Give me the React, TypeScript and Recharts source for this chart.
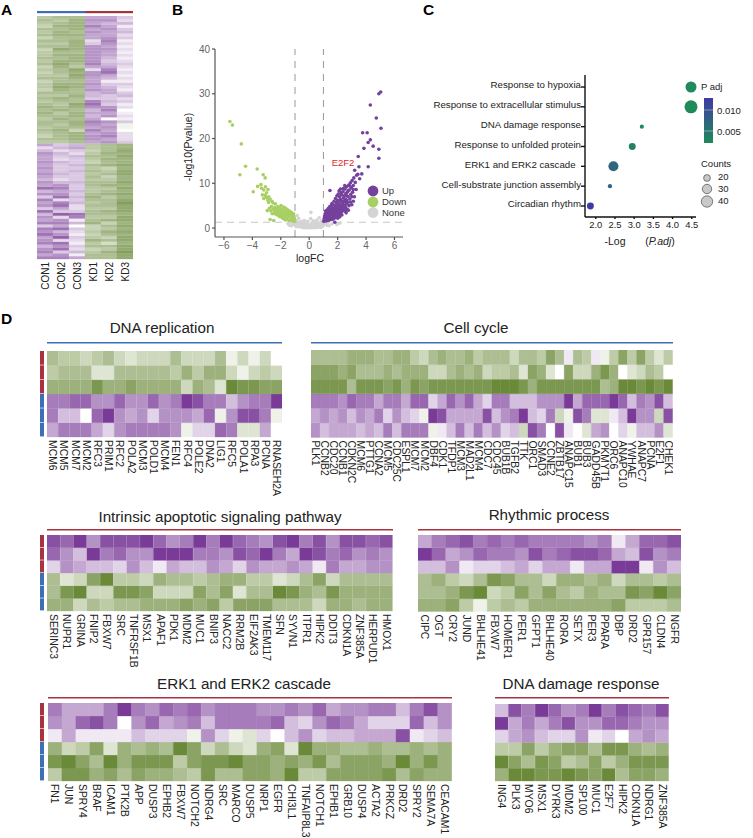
import {
  Bar,
  BarChart,
  Cell,
  ReferenceLine,
  Scatter,
  ScatterChart,
  XAxis,
  YAxis,
  ZAxis,
} from "recharts";

const FONT = "'Liberation Sans', Arial, sans-serif";

// heat values: purple is positive, green is negative, 0 is white
const PANEL_A_SAMPLES = ["CON1", "CON2", "CON3", "KD1", "KD2", "KD3"];
const PANEL_A_ROWS = [
  [-5, -6, -6, 5, 5, 3], [-6, -5, -7, 6, 6, 2], [-5, -6, -7, 5, 4, 4], [-4, -7, -7, 7, 5, 1],
  [-6, -6, -7, 5, 6, 3], [-5, -7, -6, 6, 5, 4], [-6, -7, -7, 5, 5, 2], [-4, -6, -6, 5, 6, 3],
  [-6, -6, -7, 2, 7, 1], [-5, -5, -7, 3, 6, 2], [-6, -6, -7, 6, 5, 1], [-4, -8, -7, 6, 6, 2],
  [-5, -6, -6, 6, 5, 1], [-5, -7, -7, 6, 5, 2], [-6, -6, -7, 6, 4, 1], [-5, -7, -7, 6, 3, 2],
  [-6, -8, -6, 7, 4, 3], [-4, -7, -5, 5, 5, 2], [-5, -6, -8, 2, 7, 1], [-4, -6, -7, 6, 8, 2],
  [-5, -5, -8, 6, 5, 1], [-6, -6, -7, 5, 4, 2], [-4, -6, -6, 5, 1, 1], [-5, -7, -7, 6, 3, 3],
  [-5, -8, -7, 5, 4, 2], [-4, -7, -6, 6, 5, 1], [-6, -6, -6, 4, 5, 3], [-5, -5, -7, 4, 3, 4],
  [-6, -7, -6, 3, 3, 2], [-5, -6, -6, 7, 4, 3], [-6, -5, -8, 8, 3, 1], [-7, -6, -7, 6, 6, 2],
  [-6, -7, -6, 4, 7, 0], [-7, -5, -7, 5, 5, 1], [-6, -6, -7, 4, 6, 2], [-5, -7, -6, 5, 0, 1],
  [-6, -6, -7, 7, 6, 3], [-6, -5, -7, 6, 5, -1], [-5, -6, -6, 5, 6, -1], [-6, -7, -4, 7, 5, 0],
  [-5, -6, -7, 5, 6, 2], [-4, -6, -7, 6, 7, 2], [-6, -6, -7, 6, 5, 2], [-5, -5, -6, 5, 6, 3],
  [5, 3, 4, -5, -6, -7], [2, 4, 5, -5, -6, -7], [4, 2, 3, -4, -6, -8], [6, 4, 2, -5, -7, -7],
  [5, 3, 4, -6, -6, -8], [5, 2, 3, -5, -7, -7], [6, 4, 3, -4, -6, -7], [5, 3, 4, -6, -7, -8],
  [6, 3, 3, -5, -4, -7], [5, 3, 4, -6, -5, -8], [6, 4, 3, -5, -6, -8], [5, 3, 3, -6, -4, -7],
  [4, 2, 3, -5, -5, -7], [6, 4, 4, -6, -6, -8], [5, 6, 3, -6, -7, -7], [8, 7, 3, -5, -5, -8],
  [4, 5, 4, -5, -6, -7], [6, 6, 3, -6, -7, -8], [3, 8, 4, -7, -5, -7], [7, 2, 3, -6, -6, -8],
  [5, 7, 4, -5, -6, -9], [6, 8, 2, -6, -6, -8], [3, 5, 2, -5, -5, -8], [8, 3, 3, -6, -7, -8],
  [4, 9, 8, -6, -6, -7], [6, 2, 7, -5, -5, -8], [5, 6, 1, -6, -7, -8], [7, 7, 4, -7, -4, -7],
  [3, 5, 0, -4, -6, -8], [7, 8, 3, -4, -5, -7], [6, 4, 2, -5, -7, -8], [8, 6, 1, -4, -6, -7],
  [5, 9, 3, -5, -4, -8], [6, 2, 2, -7, -6, -8], [7, 8, 1, -5, -3, -7], [4, 6, 3, -6, -6, -8],
  [6, 8, 2, -4, -5, -8], [7, 3, 4, -5, -7, -9], [5, 6, 1, -6, -6, -8], [7, 7, 5, -6, -6, -8],
];

const VOLCANO_UP = [
  [1.02, 1.5], [1.05, 2.1], [1.08, 2.7], [1.1, 1.7], [1.12, 3.2], [1.15, 2.2], [1.18, 1.6], [1.2, 2.8],
  [1.22, 3.5], [1.25, 1.9], [1.28, 2.4], [1.3, 3.1], [1.32, 1.7], [1.36, 2.1], [1.38, 3.7], [1.4, 2.7],
  [1.42, 1.8], [1.45, 3.3], [1.48, 2.2], [1.5, 4.1], [1.52, 1.9], [1.54, 2.9], [1.56, 3.6], [1.58, 2.3],
  [1.6, 4.6], [1.62, 1.9], [1.64, 3.1], [1.66, 2.5], [1.68, 4.0], [1.7, 5.2], [1.72, 2.1], [1.74, 3.4],
  [1.76, 2.8], [1.78, 4.5], [1.8, 3.8], [1.82, 2.3], [1.84, 5.1], [1.86, 3.1], [1.88, 4.2], [1.9, 2.6],
  [1.92, 5.7], [1.94, 3.5], [1.96, 4.8], [1.98, 2.9], [2.0, 6.2], [2.02, 3.3], [2.04, 4.3], [2.06, 5.3],
  [2.08, 2.8], [2.1, 3.8], [2.12, 7.0], [2.14, 4.6], [2.16, 5.8], [2.18, 3.2], [2.2, 6.4], [2.22, 4.1],
  [2.24, 5.1], [2.26, 3.5], [2.28, 7.4], [2.3, 4.6], [2.32, 6.0], [2.34, 3.9], [2.36, 5.4], [2.38, 8.1],
  [2.4, 6.7], [2.42, 4.3], [2.44, 5.0], [2.46, 7.2], [2.48, 3.8], [2.5, 5.9], [2.52, 8.7], [2.54, 6.5],
  [2.56, 4.6], [2.58, 7.7], [2.6, 5.3], [2.62, 9.2], [2.64, 6.2], [2.66, 4.2], [2.68, 8.0], [2.7, 5.7],
  [2.74, 7.0], [2.78, 9.6], [2.8, 5.0], [2.82, 8.5], [2.86, 6.5], [2.9, 10.1], [2.92, 7.5], [2.96, 9.0],
  [3.0, 5.2], [3.02, 10.6], [3.05, 8.0], [3.1, 9.5], [3.14, 11.2], [3.18, 7.0], [3.2, 12.9], [3.24, 10.2],
  [3.3, 8.6], [3.34, 11.8], [3.42, 12.0], [3.5, 13.7], [3.55, 11.0], [3.7, 12.1], [1.46, 8.4], [2.2, 8.7],
  [2.1, 8.3], [1.8, 1.3], [2.0, 2.2], [2.15, 2.5], [2.3, 2.9], [2.6, 3.4], [2.75, 4.0], [1.55, 5.0],
  [1.25, 4.0], [1.35, 4.4], [1.45, 4.8], [1.6, 5.5], [1.75, 6.0], [1.85, 6.6], [1.95, 7.2], [2.05, 7.6],
  [2.25, 7.9], [2.4, 8.8], [2.5, 9.5], [1.15, 3.8], [1.42, 4.2], [1.7, 3.0], [1.95, 4.0], [2.2, 5.0],
  [2.45, 6.0], [2.65, 7.2], [2.75, 8.4], [2.85, 9.4], [3.0, 7.0], [3.1, 8.6], [2.9, 5.8], [2.55, 3.8],
  [3.45, 16.0], [3.85, 17.8], [4.15, 13.7], [3.76, 21.3], [4.08, 21.3], [4.3, 19.7], [4.15, 19.1], [4.5, 18.3],
  [4.9, 17.6], [4.9, 15.6], [5.05, 22.3], [4.72, 24.6], [4.3, 27.5], [4.9, 30.0], [5.03, 30.4], [3.1, 6.0],
];

const VOLCANO_DOWN = [
  [-1.02, 1.5], [-1.05, 2.0], [-1.08, 2.6], [-1.1, 3.2], [-1.14, 1.6], [-1.18, 2.2], [-1.22, 2.9], [-1.25, 3.5],
  [-1.28, 1.8], [-1.32, 2.4], [-1.36, 3.1], [-1.4, 3.8], [-1.42, 1.7], [-1.46, 2.6], [-1.5, 3.3], [-1.52, 4.1],
  [-1.55, 2.0], [-1.58, 2.9], [-1.62, 3.6], [-1.65, 4.4], [-1.68, 1.8], [-1.7, 2.4], [-1.74, 3.1], [-1.78, 3.9],
  [-1.8, 4.7], [-1.82, 2.1], [-1.86, 2.8], [-1.9, 3.4], [-1.92, 4.2], [-1.95, 2.4], [-1.98, 5.0], [-2.02, 3.0],
  [-2.05, 3.7], [-2.08, 4.5], [-2.1, 2.6], [-2.14, 3.3], [-2.18, 4.0], [-2.2, 4.8], [-2.24, 2.9], [-2.28, 3.6],
  [-2.3, 4.3], [-2.35, 3.1], [-2.4, 3.9], [-2.44, 4.6], [-2.48, 3.4], [-2.55, 4.2], [-2.6, 3.2], [-2.66, 4.8],
  [-2.7, 3.8], [-2.75, 1.9], [-2.8, 4.4], [-2.86, 5.7], [-2.62, 6.0], [-2.55, 5.6], [-2.38, 5.4], [-2.5, 1.7],
  [-2.95, 3.9], [-2.75, 6.5], [-2.9, 6.2], [-3.0, 6.8], [-3.1, 7.3], [-2.85, 7.0], [-3.2, 6.6], [-3.3, 7.4],
  [-3.0, 7.9], [-2.9, 8.6], [-3.2, 8.5], [-3.35, 8.9], [-3.08, 9.2], [-3.4, 9.7], [-3.63, 9.3], [-3.94, 8.1],
  [-3.24, 11.9], [-3.1, 11.2], [-3.66, 13.2], [-4.88, 11.9], [-4.48, 13.8], [-4.78, 18.8], [-5.4, 23.0], [-5.58, 23.8],
];

const VOLCANO_NONE = [
  [-1.5, 1.0], [-1.35, 0.9], [-1.2, 1.1], [-1.1, 0.8], [-1.0, 1.2], [-0.95, 0.5], [-0.9, 0.9], [-0.85, 1.3],
  [-0.8, 0.4], [-0.78, 0.8], [-0.72, 1.2], [-0.7, 0.3], [-0.66, 0.7], [-0.6, 1.1], [-0.58, 0.25], [-0.54, 0.6],
  [-0.5, 1.0], [-0.46, 0.2], [-0.42, 0.5], [-0.38, 0.9], [-0.34, 0.15], [-0.3, 0.45], [-0.26, 0.8], [-0.22, 0.1],
  [-0.18, 0.4], [-0.14, 0.75], [-0.1, 0.1], [-0.06, 0.35], [-0.02, 0.7], [0.02, 0.05], [0.06, 0.35], [0.1, 0.7],
  [0.14, 0.1], [0.18, 0.4], [0.22, 0.8], [0.26, 0.15], [0.3, 0.45], [0.34, 0.85], [0.38, 0.2], [0.42, 0.5],
  [0.46, 0.9], [0.5, 0.25], [0.54, 0.6], [0.58, 1.0], [0.62, 0.3], [0.66, 0.7], [0.7, 1.1], [0.74, 0.4],
  [0.78, 0.8], [0.82, 1.2], [0.86, 0.5], [0.9, 0.9], [0.95, 1.2], [1.0, 0.7], [1.05, 1.1], [1.15, 0.9],
  [1.3, 1.1], [1.6, 0.9], [1.95, 0.8], [2.15, 1.1], [-0.6, 1.5], [-0.35, 1.7], [-0.1, 1.5], [0.1, 2.1],
  [0.12, 3.5], [0.3, 1.6], [0.55, 1.8], [0.7, 2.3], [-0.75, 2.2], [-0.85, 2.8], [-0.9, 1.7], [0.85, 1.6],
  [-0.25, 1.3], [0.2, 1.25], [0.45, 1.3], [-0.45, 1.3], [-1.4, 0.6], [-1.25, 0.5], [1.25, 0.6], [1.4, 0.5],
  [-0.92, 0.3], [-0.75, 0.55], [-0.62, 0.5], [-0.4, 0.05], [-0.3, 0.1], [-0.2, 0.55], [0.0, 0.2], [0.0, 0.5],
  [0.2, 0.2], [0.3, 0.1], [0.4, 0.7], [0.5, 0.05], [0.6, 0.5], [0.72, 0.2], [0.85, 0.2], [0.95, 0.45],
];

const VOLCANO_X_TICKS = [-6, -4, -2, 0, 2, 4, 6];
const VOLCANO_Y_TICKS = [0, 10, 20, 30, 40];

const GO_TERMS = [
  "Response to hypoxia",
  "Response to extracellular stimulus",
  "DNA damage response",
  "Response to unfolded protein",
  "ERK1 and ERK2 cascade  ",
  "Cell-substrate junction assembly",
  "Circadian rhythm",
];
const GO_LOGP = [4.48, 4.48, 3.2, 2.95, 2.46, 2.37, 1.86];
const GO_COUNTS = [28, 39, 4, 11, 23, 4, 11];
const GO_PADJ = [0.00003, 0.00003, 0.0006, 0.0011, 0.0035, 0.0043, 0.0138];
const GO_X_TICKS = [2, 2.5, 3, 3.5, 4, 4.5];
const COUNT_LEVELS = [20, 30, 40];

const REPLICATION_GENES = ["MCM6", "MCM5", "MCM7", "MCM2", "RFC3", "PRIM1", "RFC2", "POLA2", "MCM3", "POLD1", "MCM4", "FEN1", "RFC4", "POLE2", "DNA2", "LIG1", "RFC5", "POLA1", "RPA3", "PCNA", "RNASEH2A"];
const REPLICATION_ROWS = [
  [-5, -4, -4, -3, -4, -5, -3, -2, -3, -3, -3, -5, -3, -3, -3, -5, -1, -3, -1, -3, 0],
  [-4, -5, -5, -5, -2, -2, -5, -5, -5, -5, -5, -4, -6, -4, -6, -6, -3, -1, -3, -4, -3],
  [-6, -6, -6, -6, -8, -6, -6, -7, -6, -6, -6, -6, -3, -6, -5, -2, -9, -8, -8, -7, -7],
  [6, 6, 7, 7, 5, 5, 7, 5, 5, 7, 5, 6, 9, 8, 6, 6, 3, 5, 6, 6, 9],
  [6, 3, 3, 0, 7, 9, 5, 4, 5, 2, 5, 5, 5, 4, 7, -1, 5, 8, 8, 6, -1],
  [4, 6, 6, 6, 4, 2, 5, 6, 6, 6, 6, 5, -1, 2, 2, 7, 6, -2, -2, 4, 0],
];

const CYCLE_GENES = ["PLK1", "CCNB2", "CDC20", "CCNB1", "CDKN2C", "MCM6", "PTTG1", "CCNA2", "MCM5", "CDC25C", "ESPL1", "MCM7", "MCM2", "DBF4", "CDK1", "TFDP1", "MCM3", "MAD2L1", "MCM4", "CDC7", "CDC45", "BUB1B", "TGFB2", "TTK", "ORC1", "SMAD3", "CCNE2", "ZBTB17", "ANAPC15", "BUB1", "BUB3", "GADD45B", "PKMYT1", "ORC6", "ANAPC10", "YWHAE", "ANAPC7", "PCNA", "E2F1", "CHEK1"];
const CYCLE_ROWS = [
  [-5, -5, -5, -5, -6, -6, -6, -5, -5, -6, -6, -4, -3, -5, -6, -5, -5, -6, -4, -5, -5, -5, -3, -5, -5, -4, -7, -5, 1, -5, -4, 1, -1, -4, -7, -4, -7, -4, -2, -4],
  [-7, -7, -7, -6, -7, -5, -5, -5, -6, -5, -6, -6, -6, -3, -3, -5, -6, -5, -6, -3, -4, -4, -5, -2, -7, -6, -2, 0, -7, -3, -3, -6, -8, -6, 0, -2, -3, -5, -4, 0],
  [-8, -8, -8, -8, -5, -8, -8, -8, -7, -8, -6, -8, -7, -8, -8, -8, -8, -8, -8, -8, -9, -9, -9, -8, -6, -8, -8, -8, -8, -8, -8, -8, -5, -6, -9, -9, -8, -9, -8, -9],
  [6, 6, 6, 5, 7, 6, 6, 4, 6, 6, 4, 7, 7, 2, 4, 7, 5, 7, 4, 2, 6, 6, 3, 3, 3, 5, 5, 5, 9, 4, 7, 7, 7, 9, 7, 3, 6, 5, 8, 3],
  [4, 5, 4, 5, 3, 5, 4, 6, 2, 5, 3, 2, -1, 9, 8, 4, 4, 4, 4, 8, 3, 5, 6, 9, 3, 2, 6, -3, -1, 8, 6, -2, -2, 1, 3, 9, 5, 5, -3, 8],
  [5, 3, 4, 4, 4, 3, 4, 3, 6, 3, 6, 6, 6, -1, 1, 3, 6, 3, 6, 3, 5, 2, 3, -3, 8, 6, 0, 8, 1, 0, -2, 4, 5, 0, 2, -1, 3, 3, 5, -2],
];

const APOPTOTIC_GENES = ["SERINC3", "NUPR1", "GRINA", "FNIP2", "FBXW7", "SRC", "TNFRSF1B", "MSX1", "APAF1", "PDK1", "MDM2", "MUC1", "BNIP3", "NACC2", "RRM2B", "EIF2AK3", "TMEM117", "SFN", "SYVN1", "ITPR1", "HIPK2", "DDIT3", "CDKN1A", "ZNF385A", "HERPUD1", "HMOX1"];
const APOPTOTIC_ROWS = [
  [8, 7, 9, 5, 8, 8, 8, 9, 7, 5, 6, 9, 6, 9, 7, 6, 5, 8, 9, 6, 8, 5, 8, 8, 7, 8],
  [7, 5, 3, 9, 6, 7, 5, 5, 9, 9, 9, 6, 6, 5, 8, 7, 9, 6, 4, 9, 8, 6, 7, 5, 6, 5],
  [2, 5, 4, 3, 3, 2, 5, 3, 1, 4, 3, 3, 5, 4, 2, 5, 4, 4, 5, 4, 1, 6, 4, 4, 5, 5],
  [-5, -2, -3, -7, -9, -4, -4, -3, -6, -5, -5, -4, -5, -6, -6, -4, -4, -2, -3, -5, -7, -3, -5, -5, -5, -5],
  [-5, -8, -9, -3, -3, -8, -8, -7, -3, -3, -3, -7, -5, -7, -2, -5, -5, -9, -8, -6, -5, -8, -6, -6, -6, -6],
  [-6, -6, -3, -5, -4, -5, -5, -6, -6, -6, -7, -6, -7, -4, -7, -7, -7, -5, -5, -5, -3, -6, -6, -5, -6, -6],
];

const RHYTHMIC_GENES = ["CIPC", "OGT", "CRY2", "JUND", "BHLHE41", "FBXW7", "HOMER1", "PER1", "GFPT1", "BHLHE40", "RORA", "SETX", "PER3", "PPARA", "DBP", "DRD2", "GPR157", "CLDN4", "NGFR"];
const RHYTHMIC_ROWS = [
  [4, 6, 7, 8, 6, 7, 6, 7, 6, 6, 6, 6, 5, 6, 1, 4, 7, 7, 8],
  [9, 7, 4, 5, 7, 6, 6, 5, 8, 6, 7, 8, 8, 7, 4, 3, 8, 5, 6],
  [3, 3, 5, 1, 2, 2, 3, 4, 2, 4, 4, 1, 4, 4, 9, 9, 1, 5, 3],
  [-5, -6, -4, -3, -5, -8, -7, -5, -5, -3, -6, -6, -5, -6, -3, -5, -5, -4, -5],
  [-5, -5, -6, -8, -9, -3, -4, -7, -5, -7, -5, -4, -6, -5, -5, -8, -7, -9, -7],
  [-6, -6, -7, -4, -1, -4, -5, -4, -6, -6, -6, -6, -6, -6, -7, -4, -4, -4, -5],
];

const ERK_GENES = ["FN1", "JUN", "SPRY4", "BRAF", "ICAM1", "PTK2B", "APP", "DUSP3", "EPHB2", "FBXW7", "NOTCH2", "NDRG4", "SRC", "MARCO", "DUSP5", "NRP1", "EGFR", "CHI3L1", "TNFAIP8L3", "NOTCH1", "EPHB1", "GRB10", "DUSP4", "ACTA2", "PRKCZ", "DRD2", "SPRY2", "SEMA7A", "CEACAM1"];
const ERK_ROWS = [
  [6, 4, 4, 4, 6, 9, 6, 5, 7, 6, 7, 5, 6, 6, 6, 5, 5, 6, 5, 7, 4, 5, 5, 6, 6, 3, 6, 8, 5],
  [5, 4, 7, 8, 6, 0, 5, 7, 4, 5, 6, 3, 6, 6, 6, 6, 7, 3, 2, 5, 7, 6, 4, 2, 2, 2, 7, 3, 5],
  [1, 4, 1, 1, 1, 1, 3, 2, 2, 2, -1, 5, 2, -1, -2, 2, 0, 3, 5, 2, 3, 3, 4, 4, 4, 8, 1, 2, 3],
  [-6, -3, -4, -7, -2, -6, -5, -6, -5, -9, -7, -3, -5, -3, -2, -6, -7, -2, -9, -6, -6, -5, -5, -6, -5, -5, -6, -5, -6],
  [-8, -9, -7, -5, -9, -6, -8, -8, -8, -4, -7, -8, -8, -9, -7, -7, -6, -7, -6, -8, -5, -7, -7, -7, -6, -9, -6, -8, -6],
  [-4, -8, -8, -6, -7, -5, -7, -6, -6, -5, -4, -8, -5, -5, -7, -7, -6, -9, -4, -4, -7, -7, -7, -7, -8, -5, -7, -6, -6],
];

const DAMAGE_GENES = ["ING4", "PLK3", "MYO6", "MSX1", "DYRK3", "MDM2", "SP100", "MUC1", "E2F7", "HIPK2", "CDKN1A", "NDRG1", "ZNF385A"];
const DAMAGE_ROWS = [
  [3, 8, 6, 9, 7, 5, 6, 9, 6, 8, 7, 6, 8],
  [9, 4, 6, 4, 6, 8, 5, 5, 7, 7, 6, 5, 5],
  [2, 4, 5, 3, 2, 2, 5, 1, 2, 0, 4, 5, 4],
  [-4, -4, -7, -4, -6, -7, -7, -5, -8, -8, -6, -5, -6],
  [-9, -7, -5, -8, -7, -4, -5, -7, -4, -6, -8, -8, -8],
  [-6, -9, -9, -8, -8, -9, -8, -7, -9, -5, -7, -7, -6],
];

const BLUE = "#3c6fb4";
const RED = "#a83240";

function mix(from: number[], to: number[], t: number) {
  const c = from.map((f, i) => Math.round(f + (to[i] - f) * t));
  return `rgb(${c[0]},${c[1]},${c[2]})`;
}

function heatColor(v: number, span: number) {
  return v >= 0
    ? mix([255, 255, 255], [122, 59, 152], Math.min(1, v / span))
    : mix([255, 255, 255], [106, 138, 58], Math.min(1, -v / span));
}

function padjColor(p: number) {
  const t = Math.min(1, Math.max(0, (p - 0.001) / 0.0128));
  return mix([31, 138, 90], [64, 57, 165], Math.sqrt(t));
}

function GeneTick({ x, y, payload, up }: any) {
  return (
    <text
      transform={`translate(${x},${y}) rotate(${up ? -90 : 90})`}
      textAnchor={up ? "end" : "start"}
      dominantBaseline="central"
      fontSize={up ? 10 : 10.4}
      fill="#222"
      fontFamily={FONT}
    >
      {payload.value}
    </text>
  );
}

function Heatmap({ left, top, width, height, labels, rows, labelHeight = 62, up = false, span = 9 }: any) {
  const table = labels.map((label: string) => {
    const row: Record<string, any> = { label };
    rows.forEach((_: number[], i: number) => {
      row[`r${i}`] = 1;
    });
    return row;
  });
  // stack runs bottom to top, so the last row goes first
  const order = rows.map((_: number[], i: number) => rows.length - 1 - i);
  return (
    <div style={{ position: "absolute", left, top }}>
      <BarChart
        width={width}
        height={height + labelHeight}
        data={table}
        barCategoryGap={0}
        barGap={0}
        margin={{ top: 0, right: 0, bottom: 0, left: 0 }}
      >
        <XAxis
          dataKey="label"
          interval={0}
          height={labelHeight}
          axisLine={false}
          tickLine={false}
          tickSize={0}
          tickMargin={3}
          tick={<GeneTick up={up} />}
        />
        <YAxis hide domain={[0, rows.length]} />
        {order.map((ri: number) => (
          <Bar key={ri} dataKey={`r${ri}`} stackId="h" isAnimationActive={false}>
            {rows[ri].map((v: number, i: number) => (
              <Cell key={i} fill={heatColor(v, span)} stroke={heatColor(v, span)} strokeWidth={0.3} />
            ))}
          </Bar>
        ))}
      </BarChart>
    </div>
  );
}

const toPoints = (list: number[][]) => list.map(([x, y]) => ({ x, y }));

function Dot({ cx, cy, fill }: any) {
  return <circle cx={cx} cy={cy} r={1.8} fill={fill} />;
}

function Volcano() {
  return (
    <div style={{ position: "absolute", left: 170, top: 40 }}>
      <ScatterChart width={240} height={230} margin={{ top: 9, right: 7, bottom: 0, left: 0 }}>
        <XAxis
          type="number"
          dataKey="x"
          domain={[-6.63, 6.6]}
          ticks={VOLCANO_X_TICKS}
          height={33}
          stroke="#555"
          strokeWidth={1.2}
          tickSize={3}
          tick={{ fill: "#666", fontSize: 10, fontFamily: FONT }}
          tickFormatter={(v: number) => (v < 0 ? `−${-v}` : String(v))}
        />
        <YAxis
          type="number"
          dataKey="y"
          domain={[-2, 40]}
          ticks={VOLCANO_Y_TICKS}
          width={45}
          stroke="#555"
          strokeWidth={1.2}
          tickSize={3}
          tick={{ fill: "#666", fontSize: 10, fontFamily: FONT }}
        />
        <Scatter data={toPoints(VOLCANO_NONE)} fill="#d4d4d4" shape={<Dot />} isAnimationActive={false} />
        <Scatter data={toPoints(VOLCANO_DOWN)} fill="#a8cf62" shape={<Dot />} isAnimationActive={false} />
        <Scatter data={toPoints(VOLCANO_UP)} fill="#74429c" shape={<Dot />} isAnimationActive={false} />
        <ReferenceLine x={-1} stroke="#999" strokeWidth={1} strokeDasharray="7 6" />
        <ReferenceLine x={1} stroke="#999" strokeWidth={1} strokeDasharray="7 6" />
        <ReferenceLine y={1.3} stroke="#c8c8c8" strokeWidth={1.2} strokeDasharray="7 5" />
      </ScatterChart>
    </div>
  );
}

function TermTick({ x, y, payload }: any) {
  return (
    <text
      x={x}
      y={y - 2}
      textAnchor="end"
      dominantBaseline="central"
      fontSize={9.7}
      fill="#222"
      fontFamily={FONT}
      style={{ whiteSpace: "pre" }}
    >
      {GO_TERMS[payload.value]}
    </text>
  );
}

function Enrichment() {
  const points = GO_TERMS.map((term, i) => ({
    term,
    x: GO_LOGP[i],
    y: i,
    counts: GO_COUNTS[i],
  }));
  return (
    <div style={{ position: "absolute", left: 410, top: 70 }}>
      <ScatterChart width={300} height={180} margin={{ top: 5, right: 14, bottom: 0, left: 0 }}>
        <XAxis
          type="number"
          dataKey="x"
          domain={[1.72, 4.61]}
          ticks={GO_X_TICKS}
          height={33}
          stroke="#111"
          strokeWidth={1.4}
          tickSize={2}
          tickFormatter={(v: number) => v.toFixed(1)}
          tick={{ fill: "#222", fontSize: 9.4, fontFamily: FONT }}
        />
        <YAxis
          type="number"
          dataKey="y"
          reversed
          domain={[-0.605, 6.555]}
          ticks={GO_TERMS.map((_, i) => i)}
          interval={0}
          width={175}
          stroke="#111"
          strokeWidth={1.4}
          tickSize={4}
          tickMargin={0}
          tick={<TermTick />}
        />
        <ZAxis type="number" dataKey="counts" domain={[0, 50]} range={[0, 170]} />
        <Scatter data={points} isAnimationActive={false}>
          {GO_PADJ.map((p, i) => (
            <Cell key={i} fill={padjColor(p)} />
          ))}
        </Scatter>
      </ScatterChart>
    </div>
  );
}

const label = { fontFamily: FONT, fill: "#222" };

function Annotations() {
  const letters = [
    ["A", 1, 15],
    ["B", 172, 15],
    ["C", 423, 15],
    ["D", 1, 324],
  ];
  const titles = [
    ["DNA replication", 162, 333],
    ["Cell cycle", 476, 333],
    ["Intrinsic apoptotic signaling pathway", 220, 522],
    ["Rhythmic process", 549, 520],
    ["ERK1 and ERK2 cascade", 244, 689],
    ["DNA damage response", 581, 689],
  ];
  const rules = [
    [47, 282, 342.7, BLUE],
    [311, 673, 342.7, BLUE],
    [47, 393, 529.7, RED],
    [418, 681, 529.7, RED],
    [48, 452, 697.7, RED],
    [495, 669, 697.7, RED],
  ];
  const sides = [
    [351, 437],
    [535, 611],
    [703, 781],
  ];
  const volcanoKey = [
    ["Up", "#74429c", 191],
    ["Down", "#a8cf62", 202],
    ["None", "#d4d4d4", 212.5],
  ];
  return (
    <svg
      width={753}
      height={838}
      style={{ position: "absolute", left: 0, top: 0, pointerEvents: "none" }}
    >
      <defs>
        <linearGradient id="padj" x1="0" y1="0" x2="0" y2="1">
          <stop offset="0%" stopColor="#4039a5" />
          <stop offset="100%" stopColor="#1f8a5a" />
        </linearGradient>
      </defs>
      {letters.map(([t, x, y]) => (
        <text key={t as string} x={x as number} y={y as number} fontSize={15.5} fontWeight="bold" fontFamily={FONT} fill="#000">
          {t}
        </text>
      ))}
      {titles.map(([t, x, y]) => (
        <text key={t as string} x={x as number} y={y as number} fontSize={15.2} textAnchor="middle" {...label}>
          {t}
        </text>
      ))}
      {rules.map(([x1, x2, y, c], i) => (
        <line key={i} x1={x1 as number} x2={x2 as number} y1={y as number} y2={y as number} stroke={c as string} strokeWidth={1.6} />
      ))}
      {sides.map(([a, b], i) => {
        const h = (b - a) / 6;
        return [0, 1, 2, 3, 4, 5].map((k) => (
          <rect key={`${i}-${k}`} x={40} y={a + k * h} width={4} height={h - 0.6} fill={k < 3 ? RED : BLUE} />
        ));
      })}

      <rect x={37} y={11} width={48} height={2.2} fill={BLUE} />
      <rect x={85} y={11} width={48} height={2.2} fill={RED} />

      <text x={310} y={262} fontSize={10.5} textAnchor="middle" {...label}>logFC</text>
      <text transform="translate(192,147) rotate(-90)" fontSize={10.5} textAnchor="middle" {...label}>-log10(Pvalue)</text>
      <text x={343} y={166} fontSize={9.5} textAnchor="middle" fontFamily={FONT} fill="#e0262a">E2F2</text>
      {volcanoKey.map(([t, c, y]) => (
        <g key={t as string}>
          <circle cx={373} cy={y as number} r={5.4} fill={c as string} />
          <text x={382} y={(y as number) + 3} fontSize={9.5} fontFamily={FONT} fill="#333">{t}</text>
        </g>
      ))}

      <text x={615} y={245} fontSize={10.5} textAnchor="middle" {...label}>-Log</text>
      <text x={660} y={245} fontSize={10.5} textAnchor="middle" {...label}>
        (<tspan fontStyle="italic">P.adj</tspan>)
      </text>
      <text x={701} y={90} fontSize={9.5} {...label}>P adj</text>
      <rect x={704} y={98} width={9} height={45} fill="url(#padj)" />
      <line x1={704} x2={713} y1={110} y2={110} stroke="#fff" strokeWidth={0.4} />
      <line x1={704} x2={713} y1={131} y2={131} stroke="#fff" strokeWidth={0.4} />
      <text x={717} y={114} fontSize={9.5} {...label}>0.010</text>
      <text x={717} y={135} fontSize={9.5} {...label}>0.005</text>
      <text x={701} y={167} fontSize={9.5} {...label}>Counts</text>
      {COUNT_LEVELS.map((c, i) => (
        <g key={c}>
          <circle cx={707} cy={[178, 189, 201.5][i]} r={[3.4, 4.7, 5.7][i]} fill="#c8c8c8" stroke="#333" strokeWidth={0.6} />
          <text x={718} y={[180, 192, 204][i]} fontSize={9.5} {...label}>{c}</text>
        </g>
      ))}
    </svg>
  );
}

export default function App() {
  return (
    <div style={{ position: "absolute", left: 0, top: 0, width: 753, height: 838, background: "#fff", overflow: "hidden" }}>
      <Heatmap left={37} top={16} width={96} height={243} labels={PANEL_A_SAMPLES} rows={PANEL_A_ROWS} labelHeight={34} up span={11} />
      <Volcano />
      <Enrichment />
      <Heatmap left={47} top={351} width={235.3} height={86} labels={REPLICATION_GENES} rows={REPLICATION_ROWS} />
      <Heatmap left={311} top={349.5} width={361.7} height={87.5} labels={CYCLE_GENES} rows={CYCLE_ROWS} />
      <Heatmap left={47} top={535} width={345.7} height={76} labels={APOPTOTIC_GENES} rows={APOPTOTIC_ROWS} />
      <Heatmap left={418} top={535} width={263} height={76.5} labels={RHYTHMIC_GENES} rows={RHYTHMIC_ROWS} />
      <Heatmap left={48} top={703} width={403.7} height={78} labels={ERK_GENES} rows={ERK_ROWS} labelHeight={57} />
      <Heatmap left={495} top={704} width={174} height={77} labels={DAMAGE_GENES} rows={DAMAGE_ROWS} labelHeight={57} />
      <Annotations />
    </div>
  );
}
